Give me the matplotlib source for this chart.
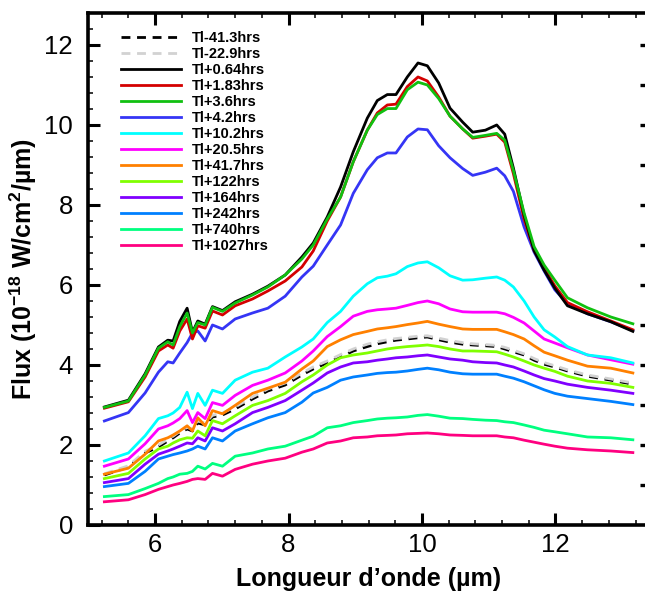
import matplotlib
matplotlib.use('Agg')
import matplotlib.pyplot as plt
from matplotlib.ticker import MultipleLocator

plt.rcParams['font.family'] = ['Liberation Sans', 'DejaVu Sans']
plt.rcParams['mathtext.fontset'] = 'custom'
plt.rcParams['mathtext.rm'] = 'Liberation Sans:bold'
plt.rcParams['mathtext.bf'] = 'Liberation Sans:bold'

# longueur d'onde (µm)
wl = [5.24, 5.60, 5.85, 6.05, 6.19, 6.27, 6.37, 6.48, 6.56, 6.64, 6.75, 6.86,
      7.01, 7.20, 7.46, 7.69, 7.95, 8.20, 8.37, 8.58, 8.78, 8.97, 9.18, 9.33,
      9.48, 9.61, 9.78, 9.94, 10.08, 10.25, 10.42, 10.61, 10.76, 10.95, 11.12,
      11.24, 11.37, 11.53, 11.68, 11.83, 11.99, 12.18, 12.48, 12.83, 13.16]

labels = ['Tl-41.3hrs', 'Tl-22.9hrs', 'Tl+0.64hrs', 'Tl+1.83hrs', 'Tl+3.6hrs',
          'Tl+4.2hrs', 'Tl+10.2hrs', 'Tl+20.5hrs', 'Tl+41.7hrs', 'Tl+122hrs',
          'Tl+164hrs', 'Tl+242hrs', 'Tl+740hrs', 'Tl+1027hrs']

f_m41 = [1.25, 1.45, 1.80, 1.95, 2.10, 2.18, 2.30, 2.40, 2.35, 2.55, 2.50, 2.70,
         2.75, 2.90, 3.15, 3.35, 3.50, 3.75, 3.90, 4.05, 4.20, 4.35, 4.46, 4.53,
         4.58, 4.62, 4.65, 4.68, 4.70, 4.63, 4.57, 4.52, 4.50, 4.48, 4.46,
         4.40, 4.33, 4.25, 4.12, 4.02, 3.95, 3.85, 3.72, 3.62, 3.52]
f_m23 = [1.28, 1.48, 1.84, 2.00, 2.14, 2.22, 2.34, 2.44, 2.40, 2.60, 2.55, 2.74,
         2.80, 2.95, 3.20, 3.40, 3.55, 3.80, 3.95, 4.10, 4.26, 4.40, 4.52, 4.58,
         4.63, 4.66, 4.69, 4.72, 4.73, 4.67, 4.61, 4.56, 4.53, 4.51, 4.49,
         4.44, 4.37, 4.28, 4.16, 4.06, 3.98, 3.88, 3.75, 3.65, 3.55]
f_p064 = [2.95, 3.12, 3.78, 4.45, 4.62, 4.60, 5.09, 5.42, 4.82, 5.10, 5.02, 5.46,
          5.36, 5.58, 5.77, 5.97, 6.25, 6.70, 7.05, 7.70, 8.45, 9.33, 10.17, 10.61,
          10.76, 10.76, 11.20, 11.55, 11.48, 11.05, 10.42, 10.07, 9.82, 9.87, 10.00,
          9.77, 8.92, 7.75, 6.86, 6.37, 5.92, 5.48, 5.28, 5.08, 4.84]
f_p183 = [2.92, 3.08, 3.70, 4.35, 4.50, 4.42, 4.85, 5.15, 4.65, 4.98, 4.92, 5.35,
          5.25, 5.48, 5.65, 5.85, 6.10, 6.45, 6.85, 7.60, 8.20, 9.08, 9.87, 10.30,
          10.50, 10.52, 10.96, 11.20, 11.10, 10.70, 10.22, 9.90, 9.67, 9.72, 9.77,
          9.57, 8.78, 7.65, 6.86, 6.42, 5.98, 5.56, 5.33, 5.10, 4.88]
f_p36 = [2.94, 3.10, 3.75, 4.42, 4.58, 4.50, 4.96, 5.30, 4.80, 5.06, 5.00, 5.44,
         5.34, 5.55, 5.75, 5.95, 6.25, 6.65, 7.00, 7.65, 8.20, 9.08, 9.87, 10.26,
         10.41, 10.41, 10.88, 11.07, 11.00, 10.66, 10.22, 9.90, 9.69, 9.74, 9.79,
         9.62, 8.86, 7.80, 6.96, 6.50, 6.12, 5.68, 5.43, 5.20, 5.03]
f_p42 = [2.60, 2.81, 3.30, 3.82, 4.08, 4.05, 4.30, 4.56, 4.80, 4.85, 4.60, 5.00,
         4.90, 5.15, 5.30, 5.42, 5.72, 6.20, 6.47, 7.00, 7.50, 8.29, 8.88, 9.18,
         9.30, 9.30, 9.70, 9.90, 9.88, 9.48, 9.18, 8.91, 8.74, 8.82, 8.92,
         8.73, 8.34, 7.45, 6.82, 6.35, 5.88, 5.53, 5.28, 5.08, 4.86]
f_p102 = [1.60, 1.80, 2.23, 2.66, 2.73, 2.80, 2.94, 3.32, 2.91, 3.29, 2.99, 3.37,
          3.29, 3.62, 3.82, 3.92, 4.20, 4.45, 4.65, 5.06, 5.34, 5.72, 6.03, 6.18,
          6.22, 6.28, 6.46, 6.55, 6.58, 6.43, 6.23, 6.12, 6.13, 6.17, 6.20,
          6.12, 5.95, 5.60, 5.20, 4.88, 4.70, 4.46, 4.25, 4.18, 4.05]
f_p205 = [1.47, 1.65, 2.03, 2.40, 2.48, 2.55, 2.66, 2.86, 2.56, 2.81, 2.66, 3.06,
          2.99, 3.24, 3.49, 3.62, 3.80, 4.10, 4.35, 4.71, 4.96, 5.22, 5.34, 5.38,
          5.40, 5.42, 5.49, 5.56, 5.60, 5.53, 5.40, 5.33, 5.32, 5.32, 5.32,
          5.28, 5.19, 5.05, 4.85, 4.65, 4.55, 4.43, 4.25, 4.13, 4.02]
f_p417 = [1.27, 1.42, 1.77, 2.10, 2.18, 2.25, 2.35, 2.48, 2.35, 2.68, 2.48, 2.86,
          2.78, 2.99, 3.29, 3.42, 3.57, 3.90, 4.10, 4.46, 4.63, 4.76, 4.84, 4.90,
          4.93, 4.96, 5.01, 5.05, 5.09, 5.02, 4.96, 4.90, 4.89, 4.89, 4.89,
          4.83, 4.76, 4.65, 4.48, 4.32, 4.23, 4.12, 3.97, 3.92, 3.80]
f_p122 = [1.16, 1.29, 1.65, 1.90, 1.97, 2.05, 2.13, 2.18, 2.17, 2.35, 2.23, 2.61,
          2.53, 2.73, 2.99, 3.11, 3.29, 3.58, 3.75, 4.00, 4.18, 4.25, 4.30, 4.35,
          4.40, 4.43, 4.46, 4.48, 4.50, 4.46, 4.40, 4.35, 4.35, 4.34, 4.33,
          4.27, 4.20, 4.10, 4.00, 3.92, 3.84, 3.72, 3.60, 3.54, 3.44]
f_p164 = [1.06, 1.16, 1.52, 1.77, 1.85, 1.90, 1.97, 2.05, 2.03, 2.18, 2.10, 2.43,
          2.35, 2.53, 2.81, 2.94, 3.11, 3.37, 3.55, 3.80, 3.95, 4.05, 4.08, 4.12,
          4.15, 4.18, 4.20, 4.23, 4.25, 4.20, 4.15, 4.12, 4.08, 4.06, 4.05,
          4.00, 3.95, 3.85, 3.75, 3.66, 3.60, 3.52, 3.44, 3.37, 3.29]
f_p242 = [0.96, 1.04, 1.34, 1.65, 1.72, 1.76, 1.80, 1.85, 1.90, 1.97, 1.90, 2.18,
          2.10, 2.35, 2.53, 2.68, 2.81, 3.07, 3.30, 3.44, 3.62, 3.70, 3.75, 3.79,
          3.81, 3.82, 3.85, 3.89, 3.92, 3.88, 3.82, 3.78, 3.77, 3.77, 3.77,
          3.72, 3.67, 3.58, 3.48, 3.38, 3.29, 3.22, 3.16, 3.09, 3.01]
f_p740 = [0.71, 0.76, 0.91, 1.04, 1.16, 1.20, 1.27, 1.29, 1.34, 1.47, 1.40, 1.54,
          1.47, 1.72, 1.80, 1.90, 1.97, 2.12, 2.22, 2.43, 2.48, 2.56, 2.61, 2.65,
          2.67, 2.68, 2.70, 2.74, 2.76, 2.72, 2.67, 2.66, 2.64, 2.62, 2.61,
          2.58, 2.56, 2.50, 2.44, 2.37, 2.33, 2.28, 2.20, 2.18, 2.13]
f_p1027 = [0.58, 0.63, 0.76, 0.89, 0.96, 1.00, 1.04, 1.09, 1.14, 1.16, 1.14, 1.29,
           1.22, 1.39, 1.52, 1.60, 1.67, 1.82, 1.90, 2.05, 2.10, 2.18, 2.20, 2.23,
           2.24, 2.25, 2.28, 2.29, 2.30, 2.28, 2.25, 2.24, 2.23, 2.23, 2.23,
           2.20, 2.18, 2.12, 2.07, 2.02, 1.97, 1.92, 1.88, 1.85, 1.81]

series = [f_m41, f_m23, f_p064, f_p183, f_p36, f_p42, f_p102, f_p205, f_p417,
          f_p122, f_p164, f_p242, f_p740, f_p1027]
colors = ['black', '#d2d2d2', 'black', '#d40000', '#10c010', '#3535f5',
          '#00ffff', '#ff00ff', '#ff8000', '#80ff00', '#8000ff', '#0080ff',
          '#00ff80', '#ff0080']
styles = [(0, (3.2, 2.4)), (0, (3.2, 2.4))] + ['-'] * 12

fig = plt.figure(figsize=(6.45, 5.92), dpi=100)
ax = fig.add_axes([0.137, 0.1132, 0.869, 0.8649])

# tracer du bas vers le haut pour que les courbes du haut soient dessus
order = [0, 1, 13, 12, 11, 10, 9, 8, 7, 6, 5, 3, 2, 4]
lines = {}
for i in order:
    ln, = ax.plot(wl, series[i], color=colors[i], ls=styles[i], lw=2.0,
                  label=labels[i])
    lines[i] = ln

ax.set_xlim(5.0, 13.4)
ax.set_ylim(0, 12.8)
ax.xaxis.set_major_locator(MultipleLocator(2))
ax.xaxis.set_minor_locator(MultipleLocator(0.4))
ax.yaxis.set_major_locator(MultipleLocator(2))
ax.yaxis.set_minor_locator(MultipleLocator(0.4))
ax.tick_params(which='both', direction='in', top=True, right=False,
               labelsize=18.5)
ax.tick_params(which='major', length=8.5, width=2.2, pad=6)
ax.tick_params(which='minor', length=3.6, width=1.1)
ax.tick_params(axis='y', which='major', pad=11)
for s in ax.spines.values():
    s.set_linewidth(2.6)

# petites marques à droite (axe coupé)
sec = ax.secondary_yaxis('right')
sec.set_yticks(range(1, 13))
sec.tick_params(direction='in', length=6.5, width=2.4, labelright=False)
sec.spines['right'].set_visible(False)

ax.set_xlabel('Longueur d\u2019onde (µm)', fontsize=18, fontweight='bold',
              labelpad=7)
ax.set_ylabel(r'Flux (10$^{\mathbf{-18}}$ W/cm$^{\mathbf{2}}$/µm)',
              fontsize=18, fontweight='bold', labelpad=4)

ax.legend([lines[i] for i in range(14)], labels, loc='upper left',
          bbox_to_anchor=(0.058, 0.965), frameon=False, borderpad=0,
          borderaxespad=0, handlelength=4.1, handletextpad=0.75,
          labelspacing=0.14, prop={'weight': 'bold', 'size': 10.5})

plt.savefig('out.png', dpi=100)
